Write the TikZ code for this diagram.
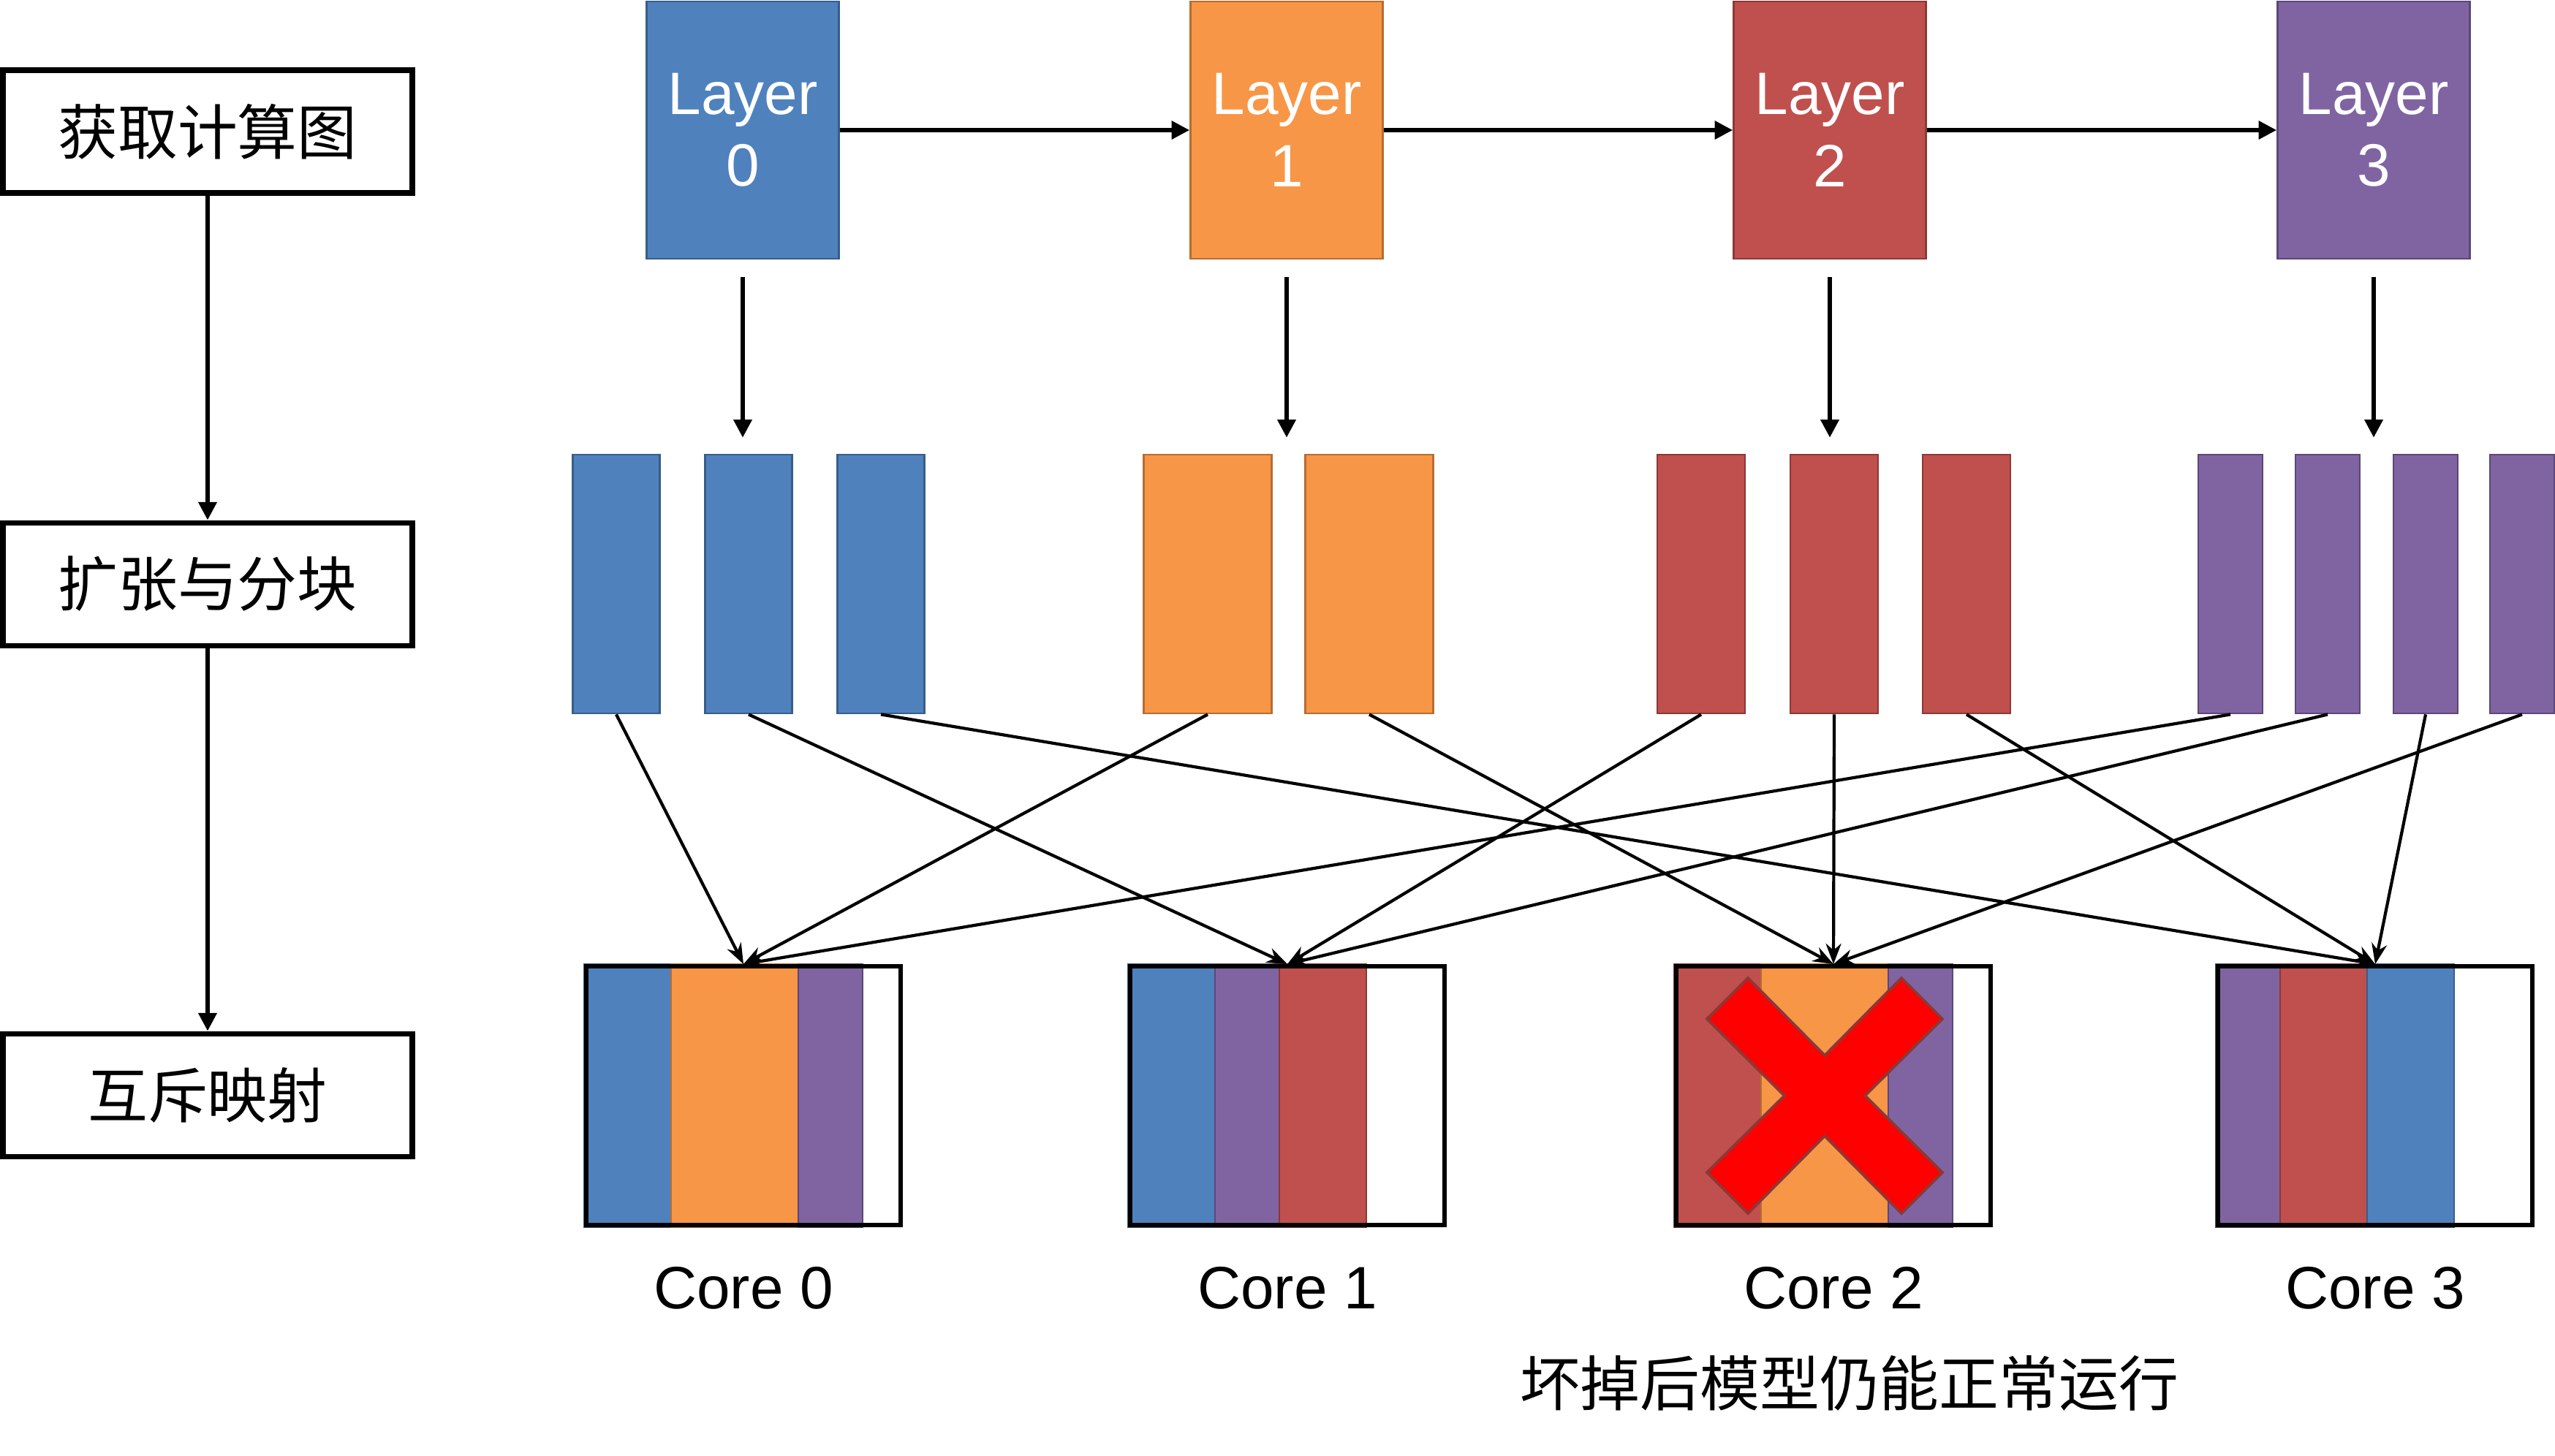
\documentclass[tikz,border=0pt]{standalone}
\usepackage{fontspec}
\setmainfont{Liberation Sans}
\newfontfamily\cjk{Noto Sans CJK SC}
\usetikzlibrary{arrows.meta}
\pgfdeclarelayer{bg}
\pgfsetlayers{bg,main}
\definecolor{cB}{HTML}{4F81BD}\definecolor{cBD}{HTML}{385D8A}
\definecolor{cO}{HTML}{F79646}\definecolor{cOD}{HTML}{B66D31}
\definecolor{cR}{HTML}{C0504D}\definecolor{cRD}{HTML}{8C3836}
\definecolor{cP}{HTML}{8064A2}\definecolor{cPD}{HTML}{5C4776}
\newcommand\coreslice[4]{\path[blk=#4] ([xshift=#2cm]#1.north west) rectangle ([xshift=#3cm]#1.south west);}
\begin{document}
\begin{tikzpicture}[
  blk/.style={fill=#1,draw=#1D,line width=.8pt,inner sep=0pt},
  stepbox/.style={draw,line width=2pt,minimum width=5.6cm,minimum height=1.68cm,font=\cjk\fontsize{23.3}{28}\selectfont},
  core/.style={draw,line width=1.7pt,minimum width=4.3cm,minimum height=3.54cm,inner sep=0pt},
  flow/.style={line width=1.5pt,-{Triangle[length=7pt,width=7pt]}},
  map/.style={line width=1.2pt,-{Stealth[length=8pt,width=6pt]}},
  xmark/.style={fill={rgb,255:red,255;green,0;blue,0},draw=cRD,line width=1.1pt,line join=miter}
]
  \useasboundingbox (0,0) rectangle (34.95,-19.91);

  \node[stepbox] (S1) at (2.84,-1.80) {获取计算图};
  \node[stepbox] (S2) at (2.84,-7.99) {扩张与分块};
  \node[stepbox] (S3) at (2.84,-14.98) {互斥映射};
  \draw[flow] (S1) -- (S2);
  \draw[flow] (S2) -- (S3);

  \foreach \i/\x/\c in {0/10.16/cB,1/17.60/cO,2/25.03/cR,3/32.47/cP}
    \node[blk=\c,minimum width=2.63cm,minimum height=3.52cm,text=white,align=center,
      font=\fontsize{23.3}{28}\selectfont] (L\i) at (\x,-1.78) {Layer\\\i};
  \draw[flow] (L0) -- (L1);
  \draw[flow] (L1) -- (L2);
  \draw[flow] (L2) -- (L3);

  \foreach \n/\x in {b1/8.43,b2/10.24,b3/12.05}
    \node[blk=cB,minimum width=1.19cm,minimum height=3.54cm] (\n) at (\x,-7.99) {};
  \foreach \n/\x in {o1/16.52,o2/18.73}
    \node[blk=cO,minimum width=1.75cm,minimum height=3.54cm] (\n) at (\x,-7.99) {};
  \foreach \n/\x in {r1/23.27,r2/25.09,r3/26.90}
    \node[blk=cR,minimum width=1.20cm,minimum height=3.54cm] (\n) at (\x,-7.99) {};
  \foreach \n/\x in {p1/30.51,p2/31.84,p3/33.18,p4/34.50}
    \node[blk=cP,minimum width=.88cm,minimum height=3.54cm] (\n) at (\x,-7.99) {};

  \foreach \i in {0,...,3}
    \draw[flow] ([yshift=-.24cm]L\i.south) -- ([yshift=.22cm]L\i.south |- b1.north);

  \foreach \i/\x in {0/10.17,1/17.61,2/25.08,3/32.49}{
    \node[core] (C\i) at (\x,-14.99) {};
    \node[font=\fontsize{23.3}{28}\selectfont] (T\i) at ([yshift=-.83cm]C\i.south) {Core \i};
  }
  \begin{pgfonlayer}{bg}
    \coreslice{C0}{0}{1.19}{cB}\coreslice{C0}{1.19}{2.93}{cO}\coreslice{C0}{2.93}{3.81}{cP}
    \coreslice{C1}{0}{1.19}{cB}\coreslice{C1}{1.19}{2.07}{cP}\coreslice{C1}{2.07}{3.26}{cR}
    \coreslice{C2}{0}{1.19}{cR}\coreslice{C2}{1.19}{2.93}{cO}\coreslice{C2}{2.93}{3.81}{cP}
    \coreslice{C3}{0}{.88}{cP}\coreslice{C3}{.88}{2.07}{cR}\coreslice{C3}{2.07}{3.26}{cB}
  \end{pgfonlayer}

  \foreach \a/\b in {b1/0,b2/1,b3/3,o1/0,o2/2,r1/1,r2/2,r3/3,p1/0,p2/1,p3/3,p4/2}
    \draw[map] (\a.south) -- (C\b.north);

  \begin{scope}[shift={(C2.center)},xshift=-.12cm]
    \draw[xmark] (-1.05,1.61) -- (0,.55) -- (1.05,1.61) -- (1.61,1.05) -- (.55,0) -- (1.61,-1.05)
      -- (1.05,-1.61) -- (0,-.55) -- (-1.05,-1.61) -- (-1.61,-1.05) -- (-.55,0) -- (-1.61,1.05) -- cycle;
  \end{scope}

  \node[font=\cjk\fontsize{23.3}{28}\selectfont] (note) at (25.30,-18.92) {坏掉后模型仍能正常运行};
\end{tikzpicture}
\end{document}
